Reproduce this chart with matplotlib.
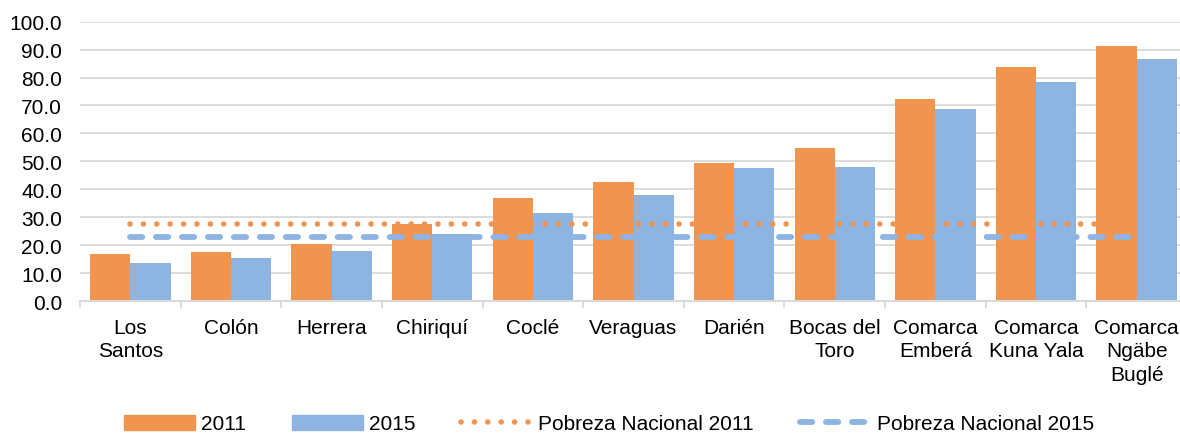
import matplotlib
matplotlib.use("Agg")
import matplotlib.pyplot as plt
import numpy as np
from matplotlib.patches import Patch
from matplotlib.lines import Line2D

plt.rcParams['font.family'] = ['Liberation Sans', 'DejaVu Sans']

categories = ["Los\nSantos", "Colón", "Herrera", "Chiriquí", "Coclé", "Veraguas",
              "Darién", "Bocas del\nToro", "Comarca\nEmberá", "Comarca\nKuna Yala",
              "Comarca\nNgäbe\nBuglé"]
v2011 = [16.8, 17.6, 20.5, 27.5, 36.9, 42.7, 49.5, 54.9, 72.4, 83.8, 91.4]
v2015 = [13.6, 15.3, 18.0, 24.0, 31.5, 37.9, 47.7, 48.1, 68.6, 78.5, 86.8]
nac2011 = 27.6
nac2015 = 23.0
yticks = [0, 10, 20, 30, 40, 50, 60, 70, 80, 90, 100]

c2011 = "#F0944F"
c2015 = "#8EB4E2"
grid_c = "#D9D9D9"

fig = plt.figure(figsize=(11.8, 4.35), dpi=100)
ax = fig.add_axes([80/1180, 1-302/435, 1107/1180, (302-22.7)/435])

x = np.arange(len(categories))
w = 0.4
ax.bar(x - w/2, v2011, width=w, color=c2011, zorder=2)
ax.bar(x + w/2, v2015, width=w, color=c2015, zorder=2)

dot_style = (0, (0.01, 2.4))
dash_style = (0, (2.1, 2.35))
ax.plot([x[0], x[-1]], [nac2011, nac2011], color=c2011, lw=4.0,
        linestyle=dot_style, dash_capstyle='round', zorder=3)
ax.plot([x[0], x[-1]], [nac2015, nac2015], color=c2015, lw=4.2,
        linestyle=dash_style, dash_capstyle='round', zorder=3)

ax.set_xlim(-0.5, len(categories) - 0.5)
ax.set_ylim(0, 100)
ax.set_yticks(yticks)
ax.set_yticklabels([f"{v:.1f}" for v in yticks])
ax.yaxis.grid(True, color=grid_c, lw=1.3, zorder=0)
ax.set_axisbelow(True)
ax.tick_params(axis='y', length=0, pad=13, labelsize=15)

ax.set_xticks(x)
ax.set_xticklabels(categories, fontsize=15, linespacing=1.3, va='top')
ax.tick_params(axis='x', which='major', length=0, pad=12)
ax.set_xticks(np.arange(-0.5, len(categories) + 0.5, 1), minor=True)
ax.tick_params(axis='x', which='minor', length=5, width=1.3, color=grid_c, direction='out')

for s in ['top', 'right', 'left']:
    ax.spines[s].set_visible(False)
ax.spines['bottom'].set_color(grid_c)
ax.spines['bottom'].set_linewidth(1.5)

handles = [
    Patch(color=c2011, label="2011"),
    Patch(color=c2015, label="2015"),
    Line2D([0], [0], color=c2011, lw=4.0, linestyle=dot_style,
           dash_capstyle='round', label="Pobreza Nacional 2011"),
    Line2D([0], [0], color=c2015, lw=4.2, linestyle=dash_style,
           dash_capstyle='round', label="Pobreza Nacional 2015"),
]
fig.legend(handles=handles, loc='center', bbox_to_anchor=(609/1180, 1-425/435),
           ncol=4, frameon=False, fontsize=15, handlelength=3.4,
           handleheight=0.75, handletextpad=0.3, columnspacing=2.2,
           borderpad=0, borderaxespad=0)

fig.savefig("out.png", dpi=100)
